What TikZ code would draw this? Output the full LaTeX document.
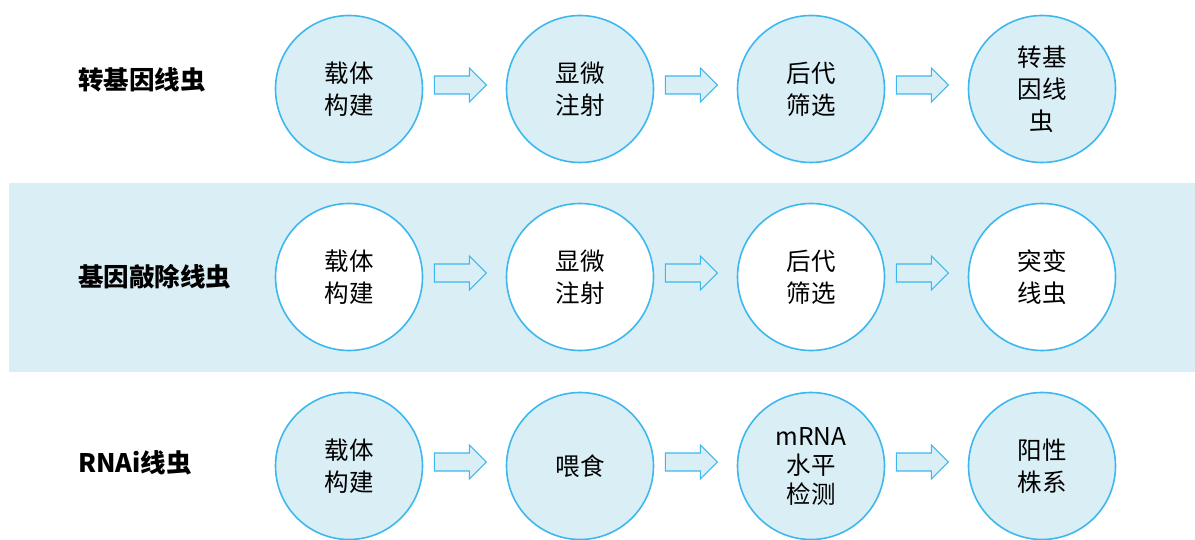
\documentclass[tikz,border=0pt]{standalone}
\usepackage{fontspec}
\setmainfont{Noto Sans CJK SC}
\definecolor{bandbg}{HTML}{DAEEF5}
\definecolor{ringc}{HTML}{3DB8EE}
\tikzset{
  x=1pt,y=-1pt,
  stepcircle/.style={circle,draw=ringc,line width=1.6pt,fill=bandbg,minimum size=147pt,inner sep=0pt,
    align=center,font=\fontsize{24.5}{32}\selectfont},
  whitecircle/.style={stepcircle,fill=white},
  rowlabel/.style={anchor=west,font=\fontsize{25.5}{28}\selectfont\bfseries,inner sep=0pt},
  flowarrow/.style={draw=ringc,line width=1.2pt,fill=bandbg,line join=miter}
}
\begin{document}
\begin{tikzpicture}
\useasboundingbox (0,0) rectangle (1195,540);
\fill[bandbg] (9,183) rectangle (1195,372);
% row labels
\node[rowlabel] (l1) at (78,80) {转基因线虫};
\node[rowlabel] (l2) at (78,277) {基因敲除线虫};
\node[rowlabel] (l3) at (78,463) {RNAi线虫};
% row 1
\node[stepcircle] (a1) at (349,89) {载体\\构建};
\node[stepcircle] (a2) at (580,89) {显微\\注射};
\node[stepcircle] (a3) at (811,89) {后代\\筛选};
\node[stepcircle] (a4) at (1042,89) {转基\\因线\\虫};
% row 2
\node[whitecircle] (b1) at (349,277) {载体\\构建};
\node[whitecircle] (b2) at (580,277) {显微\\注射};
\node[whitecircle] (b3) at (811,277) {后代\\筛选};
\node[whitecircle] (b4) at (1042,277) {突变\\线虫};
% row 3
\node[stepcircle] (c1) at (349,466) {载体\\构建};
\node[stepcircle] (c2) at (580,466) {喂食};
\node[stepcircle,font=\fontsize{24.5}{29}\selectfont] (c3) at (811,466) {mRNA\\水平\\检测};
\node[stepcircle] (c4) at (1042,466) {阳性\\株系};
% block arrows between circles
\foreach \r/\y in {a/85,b/273,c/462}{
  \foreach \i/\j in {1/2,2/3,3/4}{
    \path (\r\i.east) -- (\r\j.west) coordinate[pos=0.45] (m\r\i);
    \coordinate (ar\r\i) at (m\r\i |- 0,\y);
    \draw[flowarrow] ([shift={(-26,-9)}]ar\r\i) -- ++(35,0) -- ++(0,-8) -- ++(17,17) -- ++(-17,17)
      -- ++(0,-8) -- ++(-35,0) -- cycle;
  }
}
\end{tikzpicture}
\end{document}
